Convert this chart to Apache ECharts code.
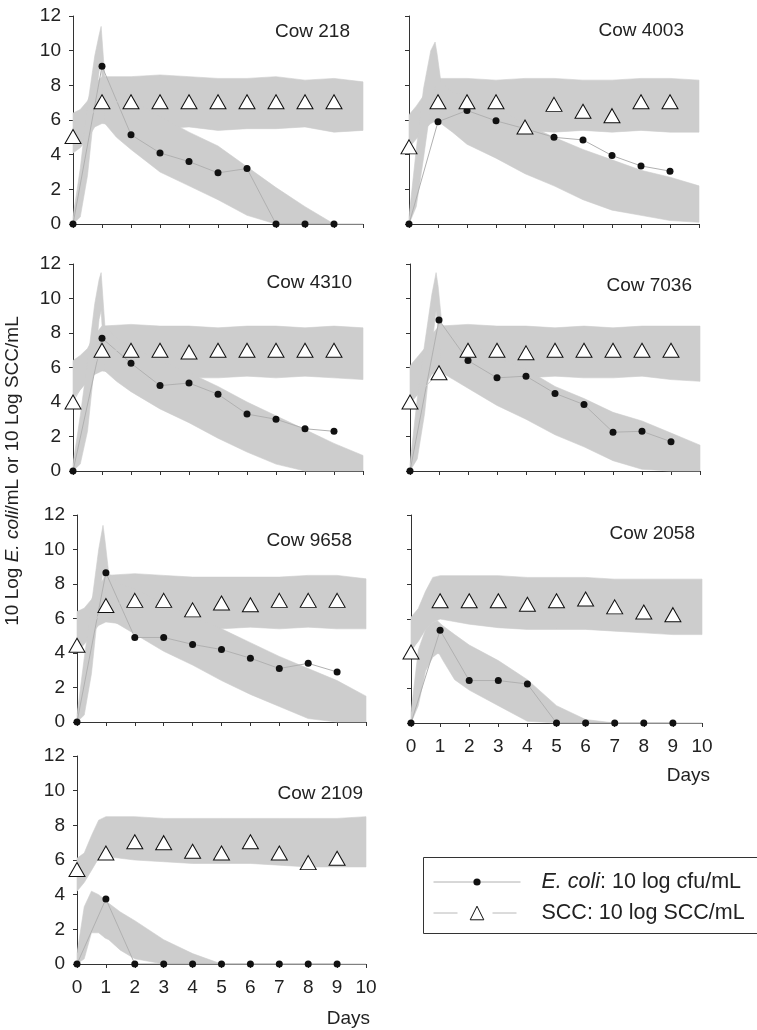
<!DOCTYPE html>
<html>
<head>
<meta charset="utf-8">
<script src="https://cdn.jsdelivr.net/npm/echarts@6/dist/echarts.min.js"></script>
<style>
  html, body { margin: 0; padding: 0; background: #fff; }
  #chart { width: 757px; height: 1030px; }
</style>
</head>
<body>
<div id="chart"></div>
<script>
// observed samples, one per day
const days = [0, 1, 2, 3, 4, 5, 6, 7, 8, 9]
const cowNames = ['Cow 218', 'Cow 4003', 'Cow 4310', 'Cow 7036', 'Cow 9658', 'Cow 2058', 'Cow 2109']
const xTicks = [0, 1, 2, 3, 4, 5, 6, 7, 8, 9, 10]
const yTicks = [0, 2, 4, 6, 8, 10, 12]

const ecoli218 = [0, 9.1, 5.15, 4.1, 3.6, 2.95, 3.2, 0, 0, 0]
const scc218 = [5.05, 7.05, 7.05, 7.05, 7.05, 7.05, 7.05, 7.05, 7.05, 7.05]
const ecoli4003 = [0, 5.9, 6.55, 5.95, 5.5, 5.0, 4.85, 3.95, 3.35, 3.05]
const scc4003 = [4.45, 7.05, 7.05, 7.05, 5.6, 6.9, 6.5, 6.25, 7.05, 7.05]
const ecoli4310 = [0, 7.7, 6.25, 4.95, 5.1, 4.45, 3.3, 3.0, 2.45, 2.3]
const scc4310 = [4.0, 7.0, 7.0, 7.0, 6.9, 7.0, 7.0, 7.0, 7.0, 7.0]
const ecoli7036 = [0, 8.75, 6.4, 5.4, 5.5, 4.5, 3.85, 2.25, 2.3, 1.7]
const scc7036 = [4.0, 5.7, 7.0, 7.0, 6.85, 7.0, 7.0, 7.0, 7.0, 7.0]
const ecoli9658 = [0, 8.65, 4.9, 4.9, 4.5, 4.2, 3.7, 3.1, 3.4, 2.9]
const scc9658 = [4.45, 6.75, 7.05, 7.05, 6.5, 6.9, 6.8, 7.05, 7.05, 7.05]
const ecoli2058 = [0, 5.35, 2.45, 2.45, 2.25, 0, 0, 0, 0, 0]
const scc2058 = [4.1, 7.05, 7.05, 7.05, 6.85, 7.05, 7.15, 6.7, 6.4, 6.25]
const ecoli2109 = [0, 3.75, 0, 0, 0, 0, 0, 0, 0, 0]
const scc2109 = [5.45, 6.4, 7.05, 7.0, 6.5, 6.4, 7.05, 6.4, 5.85, 6.1]

// simulated runs, drawn as the envelope (low / high) of the grey band
const ecBandT = [0, 0.25, 0.5, 0.75, 0.9, 0.97, 1.1, 1.5, 2, 3, 4, 5, 6, 7, 8, 9, 10]
const sccBandT = [0, 0.25, 0.5, 0.75, 1, 2, 3, 4, 5, 6, 7, 8, 9, 10]

const ecLo218 = [0, 0.4, 2.8, 6.8, 8.8, 9.3, 5.8, 5.0, 4.3, 3.0, 2.2, 1.4, 0.5, 0, 0, 0, 0]
const ecHi218 = [0.4, 3.2, 6.8, 9.7, 10.9, 11.4, 8.4, 7.6, 7.2, 6.2, 5.3, 4.5, 3.3, 2.1, 1.0, 0, 0]
const sccLo218 = [4.1, 4.4, 4.9, 5.6, 5.8, 5.6, 5.5, 5.6, 5.4, 5.5, 5.5, 5.6, 5.3, 5.4]
const sccHi218 = [6.4, 6.6, 7.1, 8.1, 8.5, 8.5, 8.6, 8.5, 8.4, 8.4, 8.5, 8.3, 8.4, 8.2]

const ecLo4003 = [0, 1, 3.8, 6.8, 8, 7.3, 5.8, 5.3, 4.6, 3.8, 2.9, 2.2, 1.4, 0.8, 0.5, 0.2, 0.1]
const ecHi4003 = [0.4, 4.3, 7.8, 10, 10.5, 9.8, 8.2, 7.6, 7.4, 6.7, 5.8, 5.0, 4.3, 3.7, 3.1, 2.7, 2.2]
const sccLo4003 = [4.4, 4.9, 5.4, 5.8, 6, 5.6, 5.5, 5.4, 5.3, 5.4, 5.3, 5.4, 5.3, 5.3]
const sccHi4003 = [6.3, 6.8, 7.4, 8.1, 8.4, 8.4, 8.3, 8.4, 8.4, 8.3, 8.3, 8.4, 8.4, 8.3]

const ecLo4310 = [0, 0.4, 2.3, 6.3, 8.8, 9.3, 5.8, 5.2, 4.6, 3.6, 2.8, 1.9, 1.1, 0.4, 0, 0, 0]
const ecHi4310 = [0.4, 3.2, 6.3, 9.7, 11.1, 11.5, 8.4, 7.7, 7.2, 6.4, 5.7, 4.9, 4.0, 3.2, 2.4, 1.6, 0.9]
const sccLo4310 = [4.2, 4.7, 5.2, 5.6, 5.8, 5.6, 5.5, 5.4, 5.4, 5.5, 5.4, 5.5, 5.4, 5.3]
const sccHi4310 = [6.4, 6.7, 7.1, 7.9, 8.4, 8.5, 8.4, 8.4, 8.3, 8.4, 8.4, 8.3, 8.4, 8.3]

const ecLo7036 = [0, 0.7, 3.3, 7.2, 9.3, 8.2, 5.7, 5.3, 4.8, 3.8, 3.0, 2.1, 1.4, 0.6, 0.1, 0, 0]
const ecHi7036 = [0.4, 4.2, 7.3, 10.2, 11.5, 10.7, 8.5, 7.9, 7.4, 6.6, 5.9, 4.9, 4.2, 3.4, 2.9, 2.2, 1.5]
const sccLo7036 = [3.9, 4.4, 4.9, 5.6, 5.8, 5.6, 5.5, 5.4, 5.5, 5.4, 5.4, 5.5, 5.3, 5.2]
const sccHi7036 = [6.1, 6.6, 7.1, 7.9, 8.4, 8.5, 8.4, 8.4, 8.3, 8.4, 8.3, 8.4, 8.4, 8.4]

const ecLo9658 = [0, 0.4, 2.8, 6.8, 8.8, 7.8, 6.0, 5.6, 5.1, 4.1, 3.3, 2.4, 1.6, 0.9, 0.2, 0, 0]
const ecHi9658 = [0.4, 3.7, 6.8, 10, 11.4, 10.5, 8.6, 8.0, 7.7, 6.9, 6.1, 5.4, 4.6, 3.8, 3.1, 2.4, 1.5]
const sccLo9658 = [4.1, 4.5, 5.1, 5.6, 5.8, 5.6, 5.5, 5.4, 5.4, 5.5, 5.4, 5.5, 5.4, 5.4]
const sccHi9658 = [6.4, 6.6, 7.1, 7.9, 8.5, 8.6, 8.5, 8.4, 8.4, 8.4, 8.4, 8.5, 8.5, 8.3]

const ecLo2058 = [0, 1.0, 3.0, 3.8, 4.0, 4.0, 3.6, 2.5, 1.9, 1.0, 0.1, 0, 0, 0, 0, 0, 0]
const ecHi2058 = [0.6, 4.2, 5.4, 5.8, 5.9, 5.8, 5.6, 5.1, 4.5, 3.6, 2.5, 1.0, 0.2, 0, 0, 0, 0]
const sccLo2058 = [4.2, 4.7, 5.4, 5.8, 6, 5.7, 5.5, 5.4, 5.4, 5.4, 5.3, 5.2, 5.1, 5.1]
const sccHi2058 = [6.1, 6.6, 7.6, 8.4, 8.5, 8.5, 8.5, 8.4, 8.4, 8.4, 8.3, 8.3, 8.3, 8.3]

const ecLo2109 = [0, 0.3, 1.8, 1.8, 1.6, 1.5, 1.4, 0.8, 0.3, 0, 0, 0, 0, 0, 0, 0, 0]
const ecHi2109 = [0.6, 3.3, 4.2, 4.0, 3.8, 3.7, 3.5, 3.0, 2.5, 1.4, 0.6, 0, 0, 0, 0, 0, 0]
const sccLo2109 = [4.2, 4.7, 5.4, 6.1, 6.2, 6.0, 5.9, 5.8, 5.8, 5.8, 5.7, 5.6, 5.6, 5.6]
const sccHi2109 = [6.1, 6.4, 7.4, 8.3, 8.5, 8.5, 8.4, 8.4, 8.4, 8.4, 8.4, 8.4, 8.4, 8.5]

const ECOLI_NAME = 'E. coli: 10 log cfu/mL'
const SCC_NAME = 'SCC: 10 log SCC/mL'
const FONT = "'Liberation Sans', Arial, sans-serif"
const TEXT = '#222'
const AXIS = '#333'
const BAND = '#cdcdcd'
const FS = 19

const panels = [
  { ecoli: ecoli218, scc: scc218, ecLo: ecLo218, ecHi: ecHi218, sccLo: sccLo218, sccHi: sccHi218 },
  { ecoli: ecoli4003, scc: scc4003, ecLo: ecLo4003, ecHi: ecHi4003, sccLo: sccLo4003, sccHi: sccHi4003 },
  { ecoli: ecoli4310, scc: scc4310, ecLo: ecLo4310, ecHi: ecHi4310, sccLo: sccLo4310, sccHi: sccHi4310 },
  { ecoli: ecoli7036, scc: scc7036, ecLo: ecLo7036, ecHi: ecHi7036, sccLo: sccLo7036, sccHi: sccHi7036 },
  { ecoli: ecoli9658, scc: scc9658, ecLo: ecLo9658, ecHi: ecHi9658, sccLo: sccLo9658, sccHi: sccHi9658 },
  { ecoli: ecoli2058, scc: scc2058, ecLo: ecLo2058, ecHi: ecHi2058, sccLo: sccLo2058, sccHi: sccHi2058 },
  { ecoli: ecoli2109, scc: scc2109, ecLo: ecLo2109, ecHi: ecHi2109, sccLo: sccLo2109, sccHi: sccHi2109 }
]

// panel boxes and label placement (pixels)
const layout = [
  { left: 73, top: 16, width: 290, height: 208, yLabels: true, xLabels: false, title: [350, 32] },
  { left: 409, top: 16, width: 290, height: 208, yLabels: false, xLabels: false, title: [684, 31] },
  { left: 73, top: 264, width: 290, height: 207, yLabels: true, xLabels: false, title: [352, 283] },
  { left: 410, top: 264, width: 290, height: 207, yLabels: false, xLabels: false, title: [692, 286] },
  { left: 77, top: 515, width: 289, height: 207, yLabels: true, xLabels: false, title: [352, 541] },
  { left: 411, top: 515, width: 291, height: 208, yLabels: false, xLabels: true, title: [695, 534], days: [710, 776] },
  { left: 77, top: 756, width: 289, height: 208, yLabels: true, xLabels: true, title: [363, 794], days: [370, 1019] }
]

function bandSeries(i, T, lo, hi) {
  return {
    type: 'custom',
    xAxisIndex: i,
    yAxisIndex: i,
    silent: true,
    z: 1,
    data: T.map((t, k) => [t, lo[k], hi[k]]),
    renderItem: (params, api) => {
      if (params.dataIndex !== 0) return null
      const up = T.map((t, k) => api.coord([t, hi[k]]))
      const dn = T.map((t, k) => api.coord([t, lo[k]])).reverse()
      return {
        type: 'polygon',
        shape: { points: up.concat(dn) },
        style: { fill: BAND, stroke: BAND, lineWidth: 0.6 }
      }
    }
  }
}

const grids = []
const xAxes = []
const yAxes = []
const series = []
const graphics = []

layout.forEach((box, i) => {
  const p = panels[i]
  grids.push({ left: box.left, top: box.top, width: box.width, height: box.height, outerBoundsMode: 'none', containLabel: false })
  xAxes.push({
    gridIndex: i,
    type: 'value',
    min: xTicks[0],
    max: xTicks[xTicks.length - 1],
    interval: 1,
    splitLine: { show: false },
    axisLine: { show: true, onZero: false, lineStyle: { color: AXIS, width: 1 } },
    axisTick: { show: true, length: 4, lineStyle: { color: AXIS } },
    axisLabel: { show: box.xLabels, fontSize: FS, fontFamily: FONT, color: TEXT, margin: 14 }
  })
  yAxes.push({
    gridIndex: i,
    type: 'value',
    min: yTicks[0],
    max: yTicks[yTicks.length - 1],
    interval: 2,
    splitLine: { show: false },
    axisLine: { show: true, onZero: false, lineStyle: { color: AXIS, width: 1 } },
    axisTick: { show: true, length: 4, lineStyle: { color: AXIS } },
    axisLabel: { show: box.yLabels, fontSize: FS, fontFamily: FONT, color: TEXT, margin: 12 }
  })

  series.push(bandSeries(i, sccBandT, p.sccLo, p.sccHi))
  series.push(bandSeries(i, ecBandT, p.ecLo, p.ecHi))
  series.push({
    name: ECOLI_NAME,
    type: 'line',
    xAxisIndex: i,
    yAxisIndex: i,
    z: 3,
    data: days.map((d, k) => [d, p.ecoli[k]]),
    symbol: 'circle',
    symbolSize: 7,
    itemStyle: { color: '#111' },
    lineStyle: { color: '#b0b0b0', width: 1 },
    animation: false
  })
  series.push({
    name: SCC_NAME,
    type: 'line',
    xAxisIndex: i,
    yAxisIndex: i,
    z: 4,
    data: days.map((d, k) => [d, p.scc[k]]),
    symbol: 'triangle',
    symbolSize: [16, 14],
    itemStyle: { color: '#fff', borderColor: '#111', borderWidth: 1 },
    lineStyle: { color: BAND, width: 1 },
    animation: false
  })

  graphics.push({
    type: 'text',
    x: box.title[0],
    y: box.title[1],
    style: {
      text: cowNames[i], fill: TEXT, font: FS + 'px ' + FONT,
      textAlign: 'right', align: 'right', textVerticalAlign: 'middle', verticalAlign: 'middle'
    }
  })
  if (box.days) {
    graphics.push({
      type: 'text',
      x: box.days[0],
      y: box.days[1],
      style: {
        text: 'Days', fill: TEXT, font: FS + 'px ' + FONT,
        textAlign: 'right', align: 'right', textVerticalAlign: 'middle', verticalAlign: 'middle'
      }
    })
  }
})

// y axis title, shared by all panels
graphics.push({
  type: 'text',
  x: 13,
  y: 471,
  rotation: Math.PI / 2,
  style: {
    text: '{n|10 Log }{i|E. coli}{n|/mL or 10 Log SCC/mL}',
    rich: {
      n: { fontSize: FS, fontFamily: FONT, fill: TEXT, color: TEXT },
      i: { fontSize: FS, fontFamily: FONT, fontStyle: 'italic', fill: TEXT, color: TEXT }
    },
    textAlign: 'center', align: 'center', textVerticalAlign: 'middle', verticalAlign: 'middle'
  }
})

// legend frame (runs off the right edge, as in the original)
graphics.push({
  type: 'rect',
  shape: { x: 423.5, y: 857.5, width: 345, height: 76 },
  style: { fill: 'none', stroke: AXIS, lineWidth: 1 }
})

const LFS = 21.5
const legendText = {
  fontSize: LFS,
  fontFamily: FONT,
  color: TEXT,
  rich: {
    g: { width: 16 },
    i: { fontSize: LFS, fontFamily: FONT, color: TEXT, fontStyle: 'italic' },
    n: { fontSize: LFS, fontFamily: FONT, color: TEXT }
  }
}

const chart = echarts.init(document.getElementById('chart'), null, { renderer: 'canvas' })
chart.setOption({
  animation: false,
  backgroundColor: '#fff',
  grid: grids,
  xAxis: xAxes,
  yAxis: yAxes,
  legend: [
    {
      data: [ECOLI_NAME],
      left: 433,
      top: 871,
      padding: 0,
      itemWidth: 87,
      itemHeight: 9,
      selectedMode: false,
      itemStyle: { color: '#111', borderWidth: 0 },
      lineStyle: { color: '#b0b0b0', width: 1 },
      textStyle: legendText,
      formatter: () => '{g|}{i|E. coli}{n|: 10 log cfu/mL}'
    },
    {
      data: [SCC_NAME],
      left: 433,
      top: 902,
      padding: 0,
      itemWidth: 87,
      itemHeight: 17,
      selectedMode: false,
      itemStyle: { color: '#fff', borderColor: '#111', borderWidth: 1 },
      lineStyle: { color: '#b8b8b8', width: 1, type: [24, 35] },
      textStyle: legendText,
      formatter: () => '{g|}{n|SCC: 10 log SCC/mL}'
    }
  ],
  graphic: graphics,
  series: series
})
</script>
</body>
</html>
